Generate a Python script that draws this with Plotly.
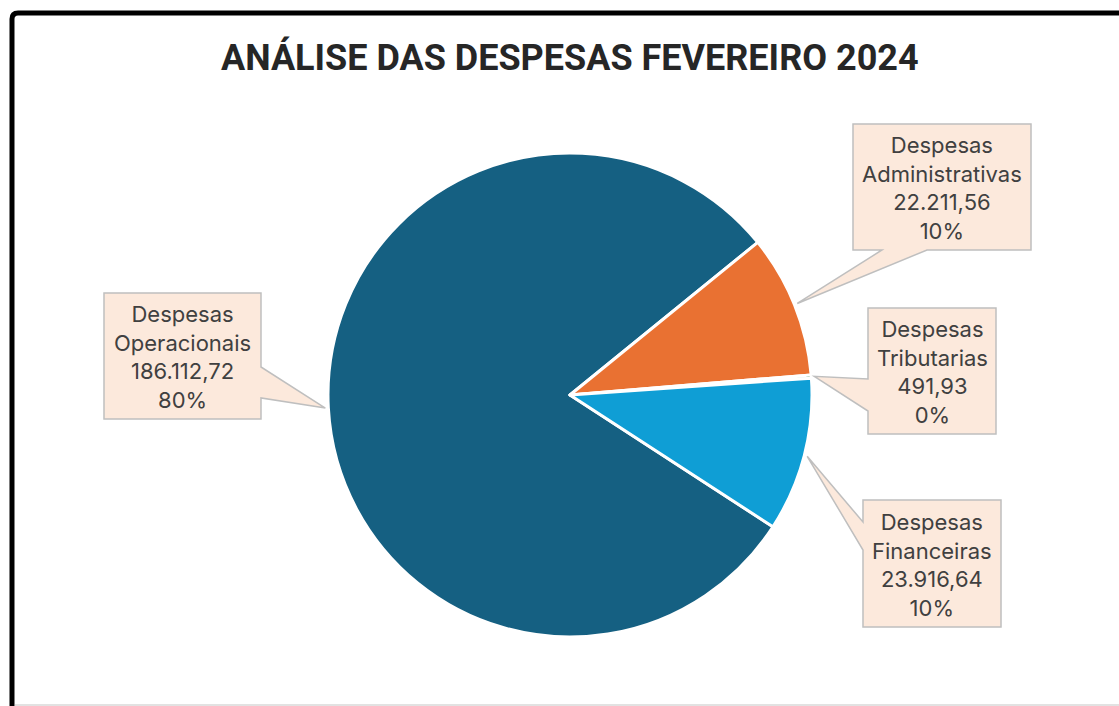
import math
import plotly.graph_objects as go

# ---- data ----
categories = ["Despesas Operacionais", "Despesas Administrativas", "Despesas Tributarias", "Despesas Financeiras"]
values = [186112.72, 22211.56, 491.93, 23916.64]
value_labels = ["186.112,72", "22.211,56", "491,93", "23.916,64"]
title_text = "ANÁLISE DAS DESPESAS FEVEREIRO 2024"

colors = ["#156082", "#E97132", "#196B24", "#0F9ED5"]

W, H = 1119, 706
CX, CY, R = 570, 395, 242
ROTATION = 123

def px(x):
    return x / W

def py(y):
    return 1 - y / H

fig = go.Figure(go.Pie(
    labels=categories,
    values=values,
    sort=False,
    direction="clockwise",
    rotation=ROTATION,
    marker=dict(colors=colors, line=dict(color="white", width=3)),
    textinfo="none",
    showlegend=False,
    domain=dict(x=[px(CX - R), px(CX + R)], y=[py(CY + R), py(CY - R)]),
))

# slice mid angles (degrees from 12 o'clock, clockwise)
total = sum(values)
tips = []
acc = ROTATION
for v in values:
    span = v / total * 360
    mid = math.radians(acc + span / 2)
    tips.append((CX + (R + 3) * math.sin(mid), CY - (R + 3) * math.cos(mid)))
    acc += span

pct_labels = [f"{round(v / total * 100):.0f}%" for v in values]

# callout boxes: (x0, y0, x1, y1, side, base0, base1)
boxes = [
    (104, 293, 261, 419, "right", 367, 398),
    (853, 124, 1031, 250, "bottom", 882, 927),
    (868, 308, 996, 434, "left", 379, 411),
    (863, 500, 1001, 627, "left", 522, 550),
]

shapes = []
annotations = []
for (x0, y0, x1, y1, side, b0, b1), tip, cat, vl, pl in zip(boxes, tips, categories, value_labels, pct_labels):
    tx, ty = tip
    if side == "right":
        pts = [(x0, y0), (x1, y0), (x1, b0), (tx, ty), (x1, b1), (x1, y1), (x0, y1)]
    elif side == "left":
        pts = [(x0, y0), (x1, y0), (x1, y1), (x0, y1), (x0, b1), (tx, ty), (x0, b0)]
    else:  # bottom
        pts = [(x0, y0), (x1, y0), (x1, y1), (b1, y1), (tx, ty), (b0, y1), (x0, y1)]
    path = "M " + " L ".join(f"{px(a):.5f},{py(b):.5f}" for a, b in pts) + " Z"
    shapes.append(dict(type="path", xref="paper", yref="paper", path=path,
                       fillcolor="#FCE9DC", line=dict(color="#BFBFBF", width=1.5), layer="above"))
    words = cat.split(" ")
    text = "<br>".join([words[0], words[1], vl, pl])
    annotations.append(dict(x=px((x0 + x1) / 2), y=py((y0 + y1) / 2 + 1), xref="paper", yref="paper",
                            text=text, showarrow=False, xanchor="center", yanchor="middle",
                            font=dict(family="Inter, Open Sans, sans-serif", size=22, color="#404040")))

# outer frame
shapes.append(dict(type="path", xref="paper", yref="paper",
                   path=f"M {px(12):.5f},{py(740):.5f} L {px(12):.5f},{py(19):.5f} Q {px(12):.5f},{py(13):.5f} {px(18):.5f},{py(13):.5f} L {px(1140):.5f},{py(13):.5f}",
                   line=dict(color="black", width=5), layer="above"))
shapes.append(dict(type="line", xref="paper", yref="paper", x0=px(15), x1=px(1130), y0=py(705), y1=py(705),
                   line=dict(color="#D9D9D9", width=1.5), layer="above"))

annotations.append(dict(x=px(570), y=py(57), xref="paper", yref="paper", text=f"<b>{title_text}</b>",
                        showarrow=False, xanchor="center", yanchor="middle",
                        font=dict(family="Liberation Sans Narrow, Arial Narrow, Roboto, sans-serif", size=36, color="#262626")))

fig.update_layout(
    width=W, height=H,
    margin=dict(l=0, r=0, t=0, b=0),
    paper_bgcolor="white",
    plot_bgcolor="white",
    shapes=shapes,
    annotations=annotations,
)

fig.write_html("out.html", config={"displayModeBar": False},
               post_script="document.body.style.margin='0';document.body.style.overflow='hidden';")
